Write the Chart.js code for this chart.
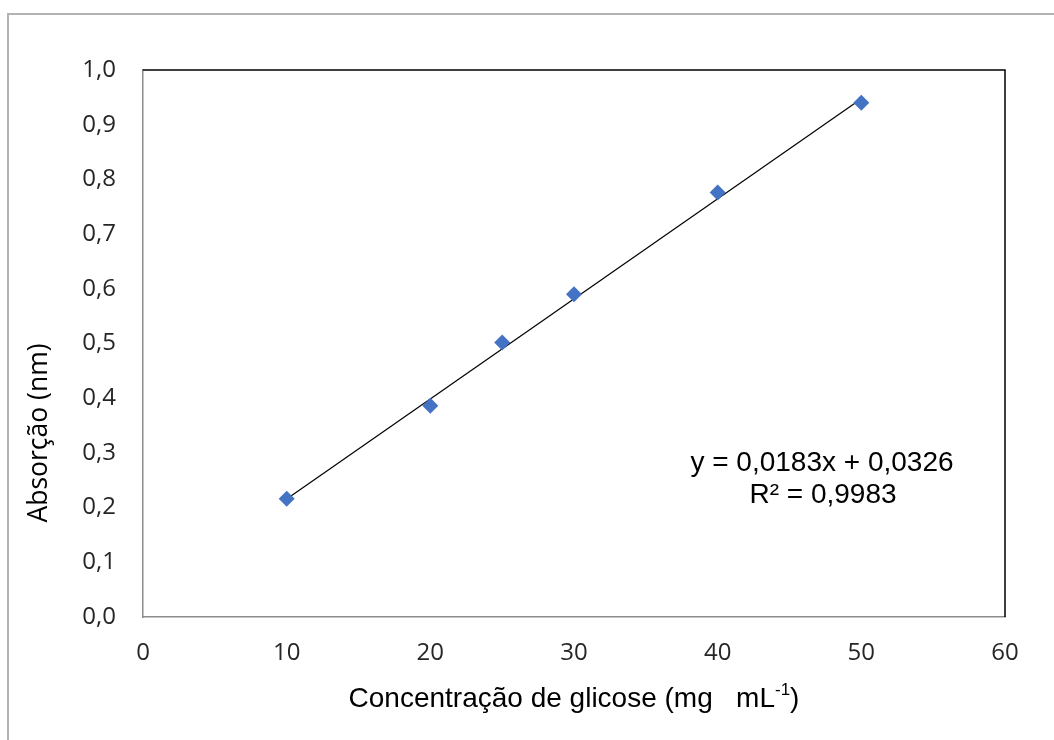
<!DOCTYPE html>
<html>
<head>
<meta charset="utf-8">
<script src="https://cdn.jsdelivr.net/npm/chart.js@4.4.1/dist/chart.umd.min.js"></script>
<style>
    html, body { margin: 0; padding: 0; background: #fff; overflow: hidden; }
    #frame {
        position: absolute; left: 7px; top: 13px;
        width: 1100px; height: 800px;
        border: 2px solid #b3b3b3; box-sizing: border-box;
    }
    #chart { position: absolute; left: 0; top: 0; }
</style>
</head>
<body>
<div id="frame"></div>
<canvas id="chart" width="1054" height="740"></canvas>
<script>
// glucose calibration data
const concentrations = [10, 20, 25, 30, 40, 50];
const absorbance = [0.216, 0.386, 0.502, 0.590, 0.776, 0.940];

// trendline as reported on the chart
const slope = 0.0183;
const intercept = 0.0326;
const rSquared = 0.9983;

const xTickValues = [0, 10, 20, 30, 40, 50, 60];
const yTickValues = [0, 0.1, 0.2, 0.3, 0.4, 0.5, 0.6, 0.7, 0.8, 0.9, 1.0];

const tickFont = '"Open Sans", "Liberation Sans", sans-serif';
const labelFont = '"Liberation Sans", Arial, sans-serif';

const fmt = (v, d) => v.toFixed(d).replace('.', ',');

const xMin = concentrations[0];
const xMax = concentrations[concentrations.length - 1];
const trendPoints = [
    { x: xMin, y: slope * xMin + intercept },
    { x: xMax, y: slope * xMax + intercept }
];

const extras = {
    id: 'extras',
    afterDraw(chart) {
        const { ctx, chartArea: a } = chart;
        ctx.save();
        // top & right edge of plot area
        ctx.strokeStyle = '#000';
        ctx.lineWidth = 1.5;
        ctx.beginPath();
        ctx.moveTo(a.left, a.top);
        ctx.lineTo(a.right, a.top);
        ctx.lineTo(a.right, a.bottom);
        ctx.stroke();

        ctx.fillStyle = '#000';
        // y axis title
        ctx.font = '26.5px ' + tickFont;
        ctx.translate(39, 433);
        ctx.rotate(-Math.PI / 2);
        ctx.textAlign = 'center';
        ctx.textBaseline = 'middle';
        ctx.fillText('Absorção (nm)', 0, 0);
        ctx.setTransform(1, 0, 0, 1, 0, 0);

        // x axis title with superscript
        const main = 'Concentração de glicose (mg   mL';
        const sup = '-1';
        const end = ')';
        ctx.font = '28px ' + labelFont;
        const wMain = ctx.measureText(main).width;
        const wEnd = ctx.measureText(end).width;
        ctx.font = '17px ' + labelFont;
        const wSup = ctx.measureText(sup).width;
        const cx = (a.left + a.right) / 2;
        const x0 = cx - (wMain + wSup + wEnd) / 2;
        const yb = 707;
        ctx.textAlign = 'left';
        ctx.textBaseline = 'alphabetic';
        ctx.font = '28px ' + labelFont;
        ctx.fillText(main, x0, yb);
        ctx.font = '17px ' + labelFont;
        ctx.fillText(sup, x0 + wMain, yb - 12);
        ctx.font = '28px ' + labelFont;
        ctx.fillText(end, x0 + wMain + wSup, yb);

        // equation
        ctx.textAlign = 'center';
        ctx.textBaseline = 'middle';
        ctx.font = '28px ' + labelFont;
        ctx.fillText('y = ' + fmt(slope, 4) + 'x + ' + fmt(intercept, 4), 822, 463);
        ctx.fillText('R² = ' + fmt(rSquared, 4), 823, 495);
        ctx.restore();
    }
};

new Chart(document.getElementById('chart'), {
    type: 'scatter',
    data: {
        datasets: [{
            label: 'Trendline',
            type: 'line',
            data: trendPoints,
            borderColor: '#000',
            borderWidth: 1.2,
            pointRadius: 0,
            fill: false,
            order: 2
        }, {
            label: 'Absorção',
            data: concentrations.map((c, i) => ({ x: c, y: absorbance[i] })),
            pointStyle: 'rectRot',
            pointRadius: 8,
            backgroundColor: '#4472C4',
            borderColor: '#4472C4',
            borderWidth: 0,
            order: 1
        }]
    },
    options: {
        responsive: false,
        animation: false,
        layout: { padding: { top: 70, right: 49, left: 0, bottom: 0 } },
        plugins: {
            legend: { display: false },
            tooltip: { enabled: false }
        },
        scales: {
            x: {
                type: 'linear',
                min: 0,
                max: 60,
                afterBuildTicks: (axis) => { axis.ticks = xTickValues.map(v => ({ value: v })); },
                afterFit: (axis) => { axis.height = 123; },
                grid: { display: false, drawTicks: false },
                border: { display: true, color: '#8c8c8c', width: 1.5 },
                ticks: {
                    padding: 22,
                    color: '#262626',
                    font: { family: tickFont, size: 24 },
                    callback: (v) => String(v)
                }
            },
            y: {
                type: 'linear',
                min: 0,
                max: 1,
                afterBuildTicks: (axis) => { axis.ticks = yTickValues.map(v => ({ value: v })); },
                afterFit: (axis) => { axis.width = 143; },
                grid: { display: false, drawTicks: false },
                border: { display: true, color: '#8c8c8c', width: 1.5 },
                ticks: {
                    padding: 27,
                    color: '#262626',
                    font: { family: tickFont, size: 24 },
                    callback: (v) => fmt(v, 1)
                }
            }
        }
    },
    plugins: [extras]
});
</script>
</body>
</html>
